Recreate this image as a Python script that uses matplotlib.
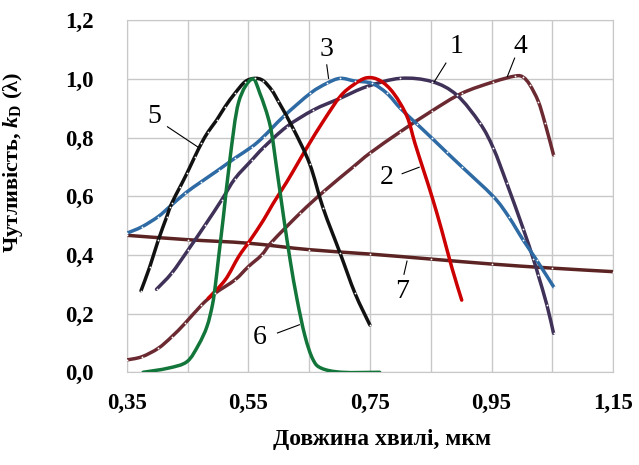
import numpy as np
import matplotlib.pyplot as plt
from matplotlib.path import Path
from matplotlib.patches import PathPatch
from matplotlib.ticker import MultipleLocator, FixedLocator, FuncFormatter

plt.rcParams['font.family'] = ['Liberation Serif', 'DejaVu Serif']
plt.rcParams['mathtext.fontset'] = 'custom'
plt.rcParams['mathtext.rm'] = 'Liberation Serif:bold'
plt.rcParams['mathtext.it'] = 'Liberation Serif:bold:italic'

# spectral sensitivity curves, wavelength in um
x1 = [0.399, 0.424, 0.451, 0.479, 0.506, 0.528, 0.556, 0.575, 0.613, 0.657, 0.701,
      0.745, 0.800, 0.852, 0.893, 0.931, 0.953, 0.975, 1.002, 1.019, 1.027, 1.041,
      1.052]
y1 = [0.283, 0.338, 0.417, 0.502, 0.587, 0.660, 0.724, 0.766, 0.837, 0.894, 0.934,
      0.974, 1.002, 0.991, 0.945, 0.849, 0.764, 0.645, 0.490, 0.385, 0.330, 0.230,
      0.133]

x2 = [0.484, 0.512, 0.534, 0.553, 0.575, 0.591, 0.613, 0.632, 0.649, 0.673, 0.701,
      0.723, 0.745, 0.767, 0.789, 0.811, 0.824, 0.838, 0.852, 0.868, 0.885, 0.901]
y2 = [0.252, 0.315, 0.394, 0.450, 0.519, 0.576, 0.648, 0.715, 0.775, 0.855, 0.940,
      0.980, 1.004, 0.994, 0.951, 0.872, 0.781, 0.690, 0.599, 0.485, 0.355, 0.246]

x3 = [0.350, 0.375, 0.402, 0.421, 0.446, 0.473, 0.501, 0.528, 0.556, 0.575, 0.608,
      0.652, 0.679, 0.701, 0.725, 0.753, 0.778, 0.800, 0.827, 0.852, 0.876, 0.901,
      0.953, 0.978, 1.002, 1.024, 1.052]
y3 = [0.474, 0.496, 0.531, 0.565, 0.610, 0.650, 0.690, 0.730, 0.769, 0.803, 0.872,
      0.951, 0.985, 1.002, 0.993, 0.985, 0.951, 0.900, 0.847, 0.798, 0.750, 0.701,
      0.599, 0.531, 0.451, 0.383, 0.292]

x4 = [0.350, 0.375, 0.402, 0.424, 0.446, 0.473, 0.495, 0.528, 0.550, 0.572, 0.589,
      0.635, 0.675, 0.723, 0.750, 0.800, 0.852, 0.901, 0.953, 0.989, 1.002, 1.013,
      1.027, 1.038, 1.052]
y4 = [0.042, 0.053, 0.082, 0.121, 0.167, 0.229, 0.269, 0.315, 0.360, 0.400, 0.445,
      0.542, 0.618, 0.701, 0.747, 0.820, 0.891, 0.951, 0.990, 1.010, 1.006, 0.980,
      0.923, 0.849, 0.741]

x5 = [0.3735, 0.388, 0.402, 0.416, 0.424, 0.438, 0.449, 0.462, 0.473, 0.484, 0.498,
      0.512, 0.528, 0.545, 0.561, 0.5745, 0.5885, 0.599, 0.624, 0.651, 0.673, 0.701,
      0.7255, 0.750]
y5 = [0.278, 0.360, 0.451, 0.531, 0.576, 0.633, 0.678, 0.735, 0.781, 0.820, 0.860,
      0.906, 0.951, 0.991, 1.002, 0.994, 0.962, 0.925, 0.830, 0.710, 0.560, 0.406,
      0.269, 0.161]

x6 = [0.377, 0.418, 0.449, 0.468, 0.482, 0.491, 0.496, 0.501, 0.509, 0.520, 0.534,
      0.556, 0.569, 0.586, 0.597, 0.608, 0.619, 0.630, 0.643, 0.656, 0.670, 0.704,
      0.766]
y6 = [0.000, 0.014, 0.036, 0.093, 0.156, 0.230, 0.300, 0.390, 0.530, 0.730, 0.920,
      1.000, 0.951, 0.840, 0.690, 0.530, 0.380, 0.250, 0.125, 0.045, 0.014, 0.000,
      0.000]

x7 = [0.35, 0.45, 0.55, 0.65, 0.75, 0.85, 0.95, 1.05, 1.15]
y7 = [0.467, 0.452, 0.440, 0.418, 0.403, 0.386, 0.369, 0.355, 0.343]

# curve number, text position, leader line start and end
labels = ['1', '2', '3', '4', '5', '6', '7']
label_xy = [(0.892, 1.111), (0.778, 0.665), (0.679, 1.099), (0.997, 1.111),
            (0.395, 0.871), (0.569, 0.117), (0.803, 0.277)]
leader_from = [(0.875, 1.054), (0.803, 0.677), (0.679, 1.048), (0.988, 1.071),
               (0.417, 0.837), (0.598, 0.134), (0.806, 0.334)]
leader_to = [(0.856, 0.991), (0.831, 0.699), (0.682, 1.002), (0.976, 1.008),
             (0.467, 0.768), (0.634, 0.162), (0.811, 0.379)]


def smooth_path(ax, xs, ys):
    """Catmull-Rom style Bezier path through the points, built in pixel space."""
    pts = ax.transData.transform(np.column_stack([xs, ys]))
    verts = [pts[0]]
    codes = [Path.MOVETO]
    n = len(pts)
    for i in range(n - 1):
        p0 = pts[max(i - 1, 0)]
        p1 = pts[i]
        p2 = pts[i + 1]
        p3 = pts[min(i + 2, n - 1)]
        c1 = p1 + (p2 - p0) / 6.0
        c2 = p2 - (p3 - p1) / 6.0
        verts += [c1, c2, p2]
        codes += [Path.CURVE4] * 3
    verts = ax.transData.inverted().transform(np.array(verts))
    return Path(verts, codes)


fig = plt.figure(figsize=(6.39, 4.65), dpi=100)
ax = fig.add_axes([0.1983, 0.1994, 0.7612, 0.757])
ax.set_xlim(0.35, 1.15)
ax.set_ylim(0, 1.2)

series = [
    (x7, y7, '#5c2323', True),
    (x4, y4, '#6b2a31', True),
    (x1, y1, '#3f3158', True),
    (x3, y3, '#2e6aa3', True),
    (x2, y2, '#cc0000', False),
    (x5, y5, '#111111', True),
    (x6, y6, '#12763a', False),
]
for xs, ys, color, dots in series:
    ax.add_patch(PathPatch(smooth_path(ax, xs, ys), fill=False, edgecolor=color,
                           lw=2.5, capstyle='round', joinstyle='round', zorder=3))
    if dots:
        ax.plot(xs, ys, ls='none', marker='o', ms=1.3, mfc='white', mec='white',
                mew=0, zorder=4)

for lab, (tx, ty), (x0, y0), (xe, ye) in zip(labels, label_xy, leader_from, leader_to):
    ax.text(tx, ty, lab, fontsize=20, ha='center', va='center', zorder=5)
    ax.plot([x0, xe], [y0, ye], color='black', lw=0.8, zorder=5)

ax.xaxis.set_major_locator(FixedLocator([0.35, 0.55, 0.75, 0.95, 1.15]))
ax.xaxis.set_minor_locator(FixedLocator([0.45, 0.65, 0.85, 1.05]))
ax.yaxis.set_major_locator(MultipleLocator(0.2))
ax.xaxis.set_major_formatter(FuncFormatter(lambda v, p: '{:.2f}'.format(v).replace('.', ',')))
ax.yaxis.set_major_formatter(FuncFormatter(lambda v, p: '{:.1f}'.format(v).replace('.', ',')))
ax.grid(True, which='both', color='#c8c8c8', lw=1.0, zorder=0)
ax.tick_params(which='both', length=0, labelsize=16.5)
ax.tick_params(axis='x', pad=15)
ax.tick_params(axis='y', pad=24)
for lbl in ax.get_xticklabels() + ax.get_yticklabels():
    lbl.set_fontweight('bold')
for sp in ax.spines.values():
    sp.set_color('#c8c8c8')

ax.set_xlabel('Довжина хвилі, мкм', fontsize=17, fontweight='bold')
ax.xaxis.set_label_coords(0.525, -0.16)
ax.set_ylabel('Чутливість, $\\mathit{k}_{\\mathrm{D}}$ (λ)', fontsize=16,
              fontweight='bold')
ax.yaxis.set_label_coords(-0.21, 0.595)

fig.savefig('out.png', dpi=100)
